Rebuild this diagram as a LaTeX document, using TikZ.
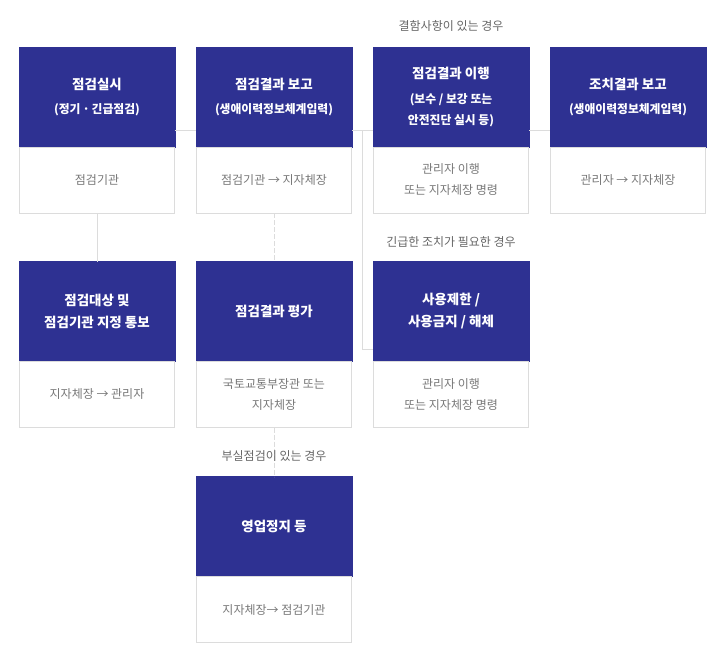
\documentclass[tikz,border=0pt]{standalone}
\usepackage{fontspec}
\setmainfont{Noto Sans CJK KR}
\usetikzlibrary{positioning}
\definecolor{navy}{HTML}{2E3192}
\definecolor{boxline}{HTML}{DCDCDC}
\definecolor{bodytext}{HTML}{777777}
\definecolor{notetext}{HTML}{666666}
\begin{document}
\begin{tikzpicture}
    [%%%%%%%%%%%%%%%%%%%%%%%%%%%%%%
        x=1pt, y=-1pt,
        head/.style={rectangle, fill=navy, draw=navy, text=white, minimum width=155.6pt, minimum height=100pt, inner sep=0pt, outer sep=0pt, align=center, font=\bfseries\fontsize{13.5}{20}\selectfont},
        body/.style={rectangle, draw=boxline, line width=1pt, minimum width=155pt, minimum height=66pt, inner sep=0pt, outer sep=0pt, align=center, text=bodytext, font=\fontsize{12}{21}\selectfont},
        note/.style={text=notetext, font=\fontsize{12}{14}\selectfont},
        conn/.style={draw=boxline, line width=1pt},
        dashconn/.style={draw=boxline, line width=1pt, dash pattern=on 5pt off 2pt},
    ]%%%%%%%%%%%%%%%%%%%%%%%%%%%%%%
    \useasboundingbox (0,0) rectangle (726,665);
    \newcommand\subline[1]{{\fontsize{11.8}{14}\selectfont #1}}
    \node[head] (h1) at (97,97) {점검실시\\[4pt]\subline{(정기\,·\,긴급점검)}};
    \node[body, below=0pt of h1] (b1) {점검기관};
    \node[head] (h2) at (274,97) {점검결과 보고\\[4pt]\subline{(생애이력정보체계입력)}};
    \node[body, below=0pt of h2] (b2) {점검기관 → 지자체장};
    \node[head] (h3) at (451,97) {점검결과 이행\\[6pt]\subline{(보수 / 보강 또는}\\[1pt]\subline{안전진단 실시 등)}};
    \node[body, below=0pt of h3] (b3) {관리자 이행\\또는 지자체장 명령};
    \node[head] (h4) at (628,97) {조치결과 보고\\[4pt]\subline{(생애이력정보체계입력)}};
    \node[body, below=0pt of h4] (b4) {관리자 → 지자체장};
    \node[head] (h5) at (97,311.5) {점검대상 및\\[2pt]점검기관 지정 통보};
    \node[body, below=0pt of h5] (b5) {지자체장 → 관리자};
    \node[head] (h6) at (274,311.5) {점검결과 평가};
    \node[body, below=0pt of h6] (b6) {국토교통부장관 또는\\지자체장};
    \node[head] (h7) at (451,311.5) {사용제한 /\\[2pt]사용금지 / 해체};
    \node[body, below=0pt of h7] (b7) {관리자 이행\\또는 지자체장 명령};
    \node[head] (h8) at (274,526.5) {영업정지 등};
    \node[body, below=0pt of h8] (b8) {지자체장→ 점검기관};
    % condition labels
    \node[note] (n1) at (451,26) {결함사항이 있는 경우};
    \node[note] (n2) at (451,242) {긴급한 조치가 필요한 경우};
    % connectors
    \draw[conn] ([yshift=-33pt]h1.east) -- ([yshift=-33pt]h2.west);
    \draw[conn] ([yshift=-33pt]h2.east) -- ([yshift=-33pt]h3.west);
    \draw[conn] ([yshift=-33pt]h3.east) -- ([yshift=-33pt]h4.west);
    \draw[conn] ([xshift=11pt,yshift=-33pt]h2.east) |- ([yshift=-37.5pt]h7.west);
    \draw[conn] (b1.south) -- (h5.north);
    \draw[dashconn] (b2.south) -- (h6.north);
    \draw[dashconn] (b6.south) -- (h8.north);
    \node[note] (n3) at (274,456) {부실점검이 있는 경우};
\end{tikzpicture}
\end{document}
